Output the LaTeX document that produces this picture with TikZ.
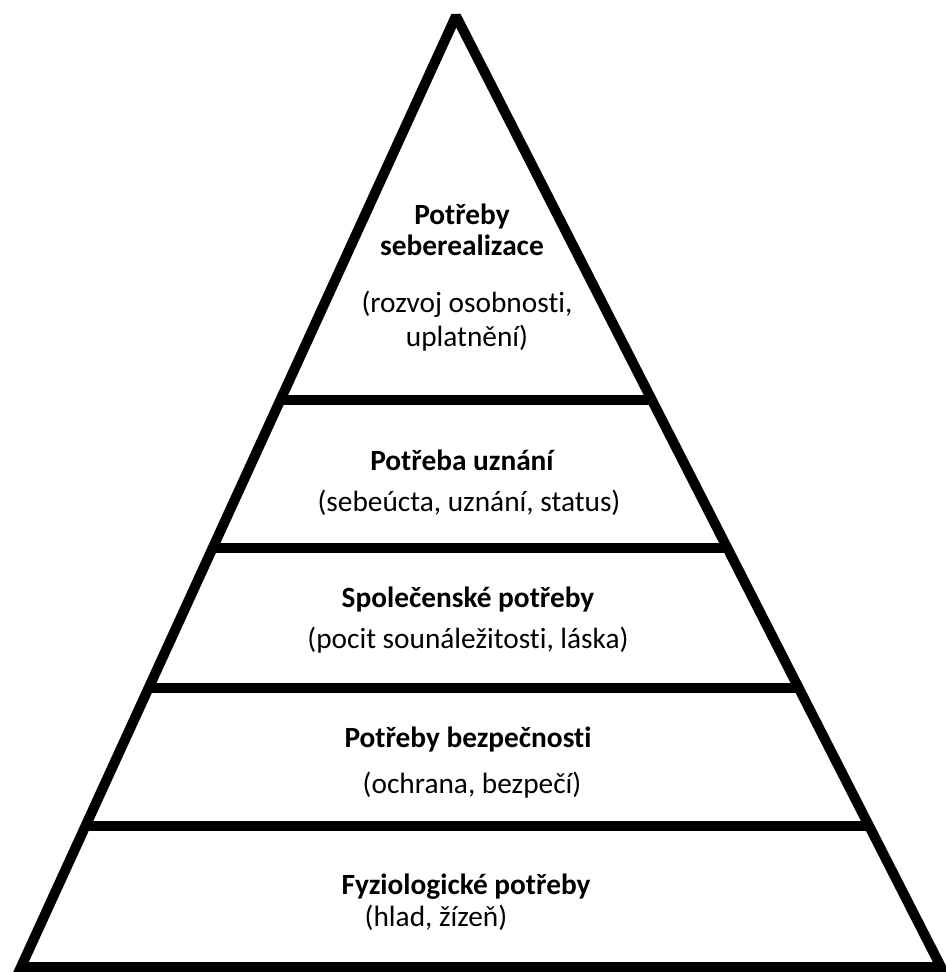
\documentclass[tikz,border=0pt]{standalone}
\usepackage{fontspec}
\setmainfont{Carlito}[Ligatures=NoCommon]
\usepackage{tikz}
\usetikzlibrary{calc}
\tikzset{
  edgeline/.style={line width=7.5pt,line join=miter,miter limit=2},
  layerline/.style={line width=7.5pt},
  titletext/.style={font=\fontsize{22}{23.5}\selectfont\bfseries,inner sep=0pt,align=center},
  notetext/.style={font=\fontsize{22}{25}\selectfont,inner sep=0pt,align=center},
}

\begin{document}
\begin{tikzpicture}[x=0.75pt,y=-0.75pt]
  \useasboundingbox (0,0) rectangle (946,972);
  \coordinate (apex) at (456,16);
  \coordinate (bl) at (21,967);
  \coordinate (br) at (941,967);
  \draw[edgeline] (apex)--(br)--(bl)--cycle;
  % layer borders
  \foreach \t [count=\i] in {0.4038,0.5594,0.7066,0.8517} {
    \draw[layerline] ($(apex)!\t!(bl)$)--($(apex)!\t!(br)$);
  }
  \node[titletext] (T5) at (462,230) {Potřeby\\seberealizace};
  \node[notetext] (N5) at (467,321) {(rozvoj osobnosti,\\uplatnění)};
  \node[titletext] (T4) at (462,460) {Potřeba uznání};
  \node[notetext] (N4) at (469,503) {(sebeúcta, uznání, status)};
  \node[titletext] (T3) at (468,600) {Společenské potřeby};
  \node[notetext] (N3) at (468,640) {(pocit sounáležitosti, láska)};
  \node[titletext] (T2) at (468,740) {Potřeby bezpečnosti};
  \node[notetext] (N2) at (472,785) {(ochrana, bezpečí)};
  \node[titletext] (T1) at (466,887) {Fyziologické potřeby};
  \node[notetext] (N1) at (436,918) {(hlad, žízeň)};
\end{tikzpicture}
\end{document}
